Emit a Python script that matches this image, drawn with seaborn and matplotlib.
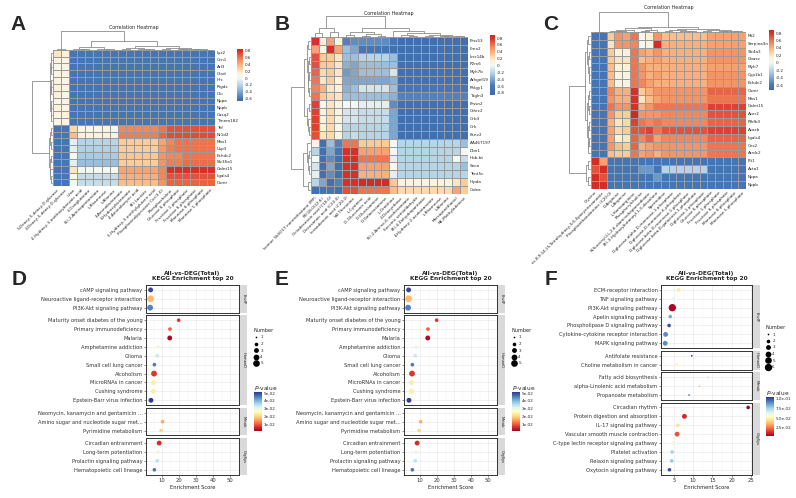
import numpy as np
import pandas as pd
import seaborn as sns
import matplotlib.pyplot as plt
from matplotlib.colors import LinearSegmentedColormap, Normalize
from matplotlib.cm import ScalarMappable
from matplotlib.lines import Line2D
from matplotlib.ticker import MultipleLocator

sns.set_style("white")
plt.rcParams['font.family'] = ['DejaVu Sans']

## DATA

# --- panel A: gene x metabolite correlation
A_rows = ['Lyz2', 'Ccn1', 'Arl3', 'Gtsd', 'Hrc', 'Ptgds', 'Clu', 'Nppa', 'Nppb', 'Casq2', 'Tmem182',
          'Tef', 'Nr1d2', 'Mns1', 'Usp3', 'Echdc2', 'Slc36a1', 'Galnt15', 'Lgals4', 'Osmr']
A_cols = ['5-Deoxy-5-deoxy-D-glucose', '2-Deoxy-5-deoxy-D-glucose', 'Urea',
          '4-Hydroxy-3-methoxybenzoic acid', '2-Oxoglutarate', '(S)-2-Aminopentanoate',
          'L-Rhamnose', 'L-Alanine', '3-Aminobutanoate', '3-Hydroxybutanoate',
          '4-Aminobutyric acid', '(R)-Lactate', '3-Hydroxy-3-methylglutaric acid',
          'Phosphoenolpyruvate Cer(3:0)', 'Phosphocholine', 'Glucose 6-phosphate',
          'Fructose 1-phosphate', 'Fructose 6-phosphate', 'Mannose 6-phosphate', 'Mannose 1-phosphate']
A_vals = [
    [.20, .15, -.60, -.60, -.60, -.60, -.60, -.60, -.60, -.60, -.60, -.60, -.60, -.60, -.60, -.60, -.60, -.60, -.60, -.60],
    [.10, .08, -.60, -.60, -.60, -.60, -.60, -.60, -.60, -.60, -.60, -.60, -.60, -.60, -.60, -.60, -.60, -.60, -.60, -.60],
    [.05, .06, -.60, -.60, -.60, -.60, -.60, -.60, -.60, -.60, -.60, -.60, -.60, -.60, -.60, -.60, -.60, -.60, -.60, -.60],
    [.08, .10, -.60, -.60, -.60, -.60, -.60, -.60, -.60, -.60, -.60, -.60, -.60, -.60, -.60, -.60, -.60, -.60, -.60, -.60],
    [.10, .05, -.60, -.60, -.60, -.60, -.60, -.60, -.60, -.60, -.60, -.60, -.60, -.60, -.60, -.60, -.60, -.60, -.60, -.60],
    [.15, .10, -.60, -.60, -.60, -.60, -.60, -.60, -.60, -.60, -.60, -.60, -.60, -.60, -.60, -.60, -.60, -.60, -.60, -.60],
    [.12, .08, -.60, -.60, -.60, -.60, -.60, -.60, -.60, -.60, -.60, -.60, -.60, -.60, -.60, -.60, -.60, -.60, -.60, -.60],
    [.05, .10, -.60, -.60, -.60, -.60, -.60, -.60, -.60, -.60, -.60, -.60, -.60, -.60, -.60, -.60, -.60, -.60, -.60, -.60],
    [.15, .08, -.60, -.60, -.60, -.60, -.60, -.60, -.60, -.60, -.60, -.60, -.60, -.60, -.60, -.60, -.60, -.60, -.60, -.60],
    [.10, .12, -.60, -.60, -.60, -.60, -.60, -.60, -.60, -.60, -.60, -.60, -.60, -.60, -.60, -.60, -.60, -.60, -.60, -.60],
    [.05, .08, -.60, -.60, -.60, -.60, -.60, -.60, -.60, -.60, -.60, -.60, -.60, -.60, -.60, -.60, -.60, -.60, -.60, -.60],
    [-.60, -.60, .25, .08, .05, .05, .08, .05, .55, .55, .55, .55, .55, .60, .70, .70, .70, .70, .70, .70],
    [-.60, -.60, .35, .12, .10, .10, .12, .10, .58, .58, .58, .58, .58, .65, .72, .72, .72, .72, .72, .72],
    [-.60, -.60, -.05, -.20, -.20, -.20, -.20, -.20, .30, .30, .30, .30, .30, .45, .55, .60, .60, .60, .60, .60],
    [-.60, -.60, -.05, -.22, -.22, -.22, -.22, -.22, .30, .30, .30, .30, .30, .48, .58, .60, .60, .60, .60, .60],
    [-.60, -.60, .00, -.25, -.25, -.25, -.25, -.25, .32, .32, .32, .32, .32, .50, .55, .55, .60, .60, .60, .60],
    [-.60, -.60, -.05, -.30, -.30, -.30, -.30, -.30, .30, .30, .30, .30, .30, .50, .58, .58, .62, .62, .62, .62],
    [-.60, -.60, .20, .00, .00, .00, .00, .00, .45, .45, .45, .45, .45, .55, .80, .80, .80, .80, .80, .80],
    [-.60, -.60, .05, -.15, -.15, -.15, -.15, -.15, .40, .40, .40, .40, .40, .55, .70, .70, .70, .70, .70, .70],
    [-.60, -.60, .00, -.15, -.15, -.15, -.15, -.15, .35, .35, .35, .35, .35, .50, .65, .65, .65, .65, .65, .65],
]
A_row_tree = [1.0, [0.08, [0.05, [0.03, 0, 1], [0.04, 2, 3]], [0.06, [0.04, 4, [0.02, 5, 6]], [0.05, [0.03, 7, 8], [0.02, 9, 10]]]],
              [0.12, [0.06, [0.03, 11, 12], [0.04, 13, 14]], [0.08, [0.05, 15, 16], [0.06, 17, [0.03, 18, 19]]]]]
A_col_tree = [1.0, [0.02, 0, 1],
              [0.47, [0.14, [0.06, 2, [0.03, 3, 4]], [0.05, 5, [0.02, 6, 7]]],
               [0.2, [0.08, [0.04, 8, 9], [0.03, 10, [0.02, 11, 12]]],
                [0.1, [0.05, 13, 14], [0.06, [0.03, 15, 16], [0.02, 17, [0.01, 18, 19]]]]]]]
A_ticks = [0.8, 0.6, 0.4, 0.2, 0, -0.2, -0.4, -0.6]
A_tlabels = ['0.8', '0.6', '0.4', '0.2', '0', '-0.2', '-0.4', '-0.6']

# --- panel B
B_rows = ['Prss53', 'Fmo2', 'Lrrc14b', 'P2rx6', 'Myh7b', 'Arhgef19', 'Phlgy1', 'Tagln3', 'Prssn2', 'Cthrc2',
          'Grb3', 'Grk', 'Kcnv2', 'AA467197', 'Dbn1', 'Hbb-bt', 'Snca', 'Tent5c', 'Hlpda', 'Cidea']
B_cols = ['Isomer 5b(6)17-norandrostane (MF)', 'PE(18:0/22:6)', 'Octadecanoic acid (C18:0)',
          'Docosanoic acid (C22:0)', 'Icosadienoic acid (C20:2)', 'Val-Threonine', 'L-Cysteine',
          'D-Glucuronic acid', 'D-Glucosamine', 'D-Galactosamine', 'L-Ornithine', '2-Deoxyribose',
          '(S)-2-Amino-6-oxohexanoate', 'Succinic semialdehyde', '(R)-4-Dehydropantoate',
          '4-Hydroxy-2-oxobutanoate', 'L-Rhamnose', 'L-Alanine', 'Mercaptoethanol', 'N6-Methyladenine']
B_vals = [
    [.80, .15, .45, .15, -.55, -.50, -.50, -.50, -.50, -.50, -.60, -.75, -.75, -.75, -.75, -.75, -.75, -.75, -.75, -.75],
    [.45, .05, .80, .45, -.30, -.40, -.60, -.60, -.60, -.60, -.70, -.75, -.75, -.75, -.75, -.75, -.75, -.75, -.75, -.75],
    [.70, .30, .30, .20, -.30, -.30, -.20, -.20, -.20, -.20, -.30, -.75, -.75, -.75, -.75, -.75, -.75, -.75, -.75, -.75],
    [.70, .30, .30, .20, -.35, -.40, -.30, -.30, -.30, -.30, -.30, -.75, -.75, -.75, -.75, -.75, -.75, -.75, -.75, -.75],
    [.65, .25, .30, .20, -.45, -.40, -.30, -.30, -.30, -.30, -.10, -.70, -.70, -.70, -.70, -.70, -.70, -.70, -.70, -.70],
    [.60, .20, .30, .15, -.40, -.40, -.40, -.40, -.40, -.40, -.35, -.70, -.70, -.70, -.70, -.70, -.70, -.70, -.70, -.80],
    [.55, .40, .20, .15, -.35, -.30, -.10, -.10, -.10, -.10, -.30, -.60, -.60, -.60, -.60, -.60, -.60, -.60, -.60, -.60],
    [.60, .30, .25, .20, -.30, -.30, -.30, -.30, -.30, -.30, -.35, -.55, -.55, -.55, -.55, -.55, -.55, -.55, -.55, -.55],
    [.75, .00, .20, .10, .00, .00, -.05, -.05, -.05, -.05, -.50, -.75, -.75, -.75, -.75, -.75, -.75, -.75, -.75, -.75],
    [.75, .10, .25, .10, -.10, -.10, -.15, -.15, -.15, -.15, -.40, -.75, -.75, -.75, -.75, -.75, -.75, -.75, -.75, -.75],
    [.75, .10, .25, .10, -.10, -.10, -.15, -.15, -.15, -.15, -.40, -.75, -.75, -.75, -.75, -.75, -.75, -.75, -.75, -.75],
    [.75, .15, .25, .05, -.20, -.20, -.20, -.20, -.20, -.20, -.40, -.75, -.75, -.75, -.75, -.75, -.75, -.75, -.75, -.75],
    [.70, .20, .25, .10, -.20, -.15, -.20, -.20, -.20, -.20, -.40, -.75, -.75, -.75, -.75, -.75, -.75, -.75, -.75, -.75],
    [.05, -.70, -.30, -.55, .60, .60, .30, .30, .30, .30, .00, -.20, -.20, -.20, -.20, -.20, -.20, -.20, -.20, -.30],
    [-.20, -.70, -.40, -.60, .80, .80, .45, .45, .45, .45, .00, -.20, -.20, -.20, -.20, -.20, -.20, -.20, -.20, .00],
    [.00, -.70, -.50, -.75, .80, .80, .60, .60, .60, .60, -.05, -.20, -.20, -.20, -.20, -.20, -.20, -.20, .00, -.15],
    [-.10, -.70, -.40, -.70, .80, .80, .45, .45, .45, .45, .00, -.20, -.20, -.20, -.20, -.20, -.20, -.20, -.20, -.30],
    [-.05, -.70, -.50, -.70, .80, .80, .40, .40, .40, .40, -.05, -.20, -.20, -.20, -.20, -.20, -.20, -.20, -.20, -.20],
    [-.20, -.40, -.70, -.55, .80, .80, .85, .85, .85, .85, .30, .10, .10, .10, .10, .10, .10, .10, .20, .30],
    [-.70, -.65, -.60, -.70, .70, .70, .60, .60, .60, .60, .35, .25, .25, .25, .25, .25, .25, .25, .45, .30],
]
B_row_tree = [1.0, [0.3, [0.15, [0.08, 0, 1], [0.1, [0.05, 2, 3], [0.06, [0.03, 4, 5], [0.04, 6, 7]]]],
                    [0.12, [0.05, 8, 9], [0.06, 10, [0.03, 11, 12]]]],
              [0.35, [0.15, 13, [0.08, [0.04, 14, 15], [0.05, 16, 17]]], [0.1, 18, 19]]]
B_col_tree = [1.0, [0.45, [0.2, 0, 1], [0.25, 2, 3]],
              [0.42, [0.25, [0.1, 4, 5], [0.12, [0.05, 6, 7], [0.04, 8, 9]]],
               [0.3, 10, [0.2, [0.08, 11, [0.05, 12, 13]], [0.1, [0.06, 14, 15], [0.05, [0.03, 16, 17], [0.04, 18, 19]]]]]]]
B_ticks = [0.8, 0.6, 0.4, 0.2, 0, -0.2, -0.4, -0.6, -0.8]
B_tlabels = ['0.8', '0.6', '0.4', '0.2', '0', '-0.2', '-0.4', '-0.6', '-0.8']

# --- panel C
C_rows = ['Mt2', 'Serpina3n', 'Slc4a3', 'Gbasv', 'Myh7', 'Cyp1b1', 'Echdc2', 'Osmr', 'Mns1', 'Galnt15',
          'Acer2', 'Pfkfb3', 'Acacb', 'Lgals4', 'Ces2', 'Arrdc2', 'Pit1', 'Acta1', 'Nppa', 'Nppb']
C_cols = ['Glycine', 'cis-8,9,14,15-Tetrahydroxy-5,6-Epoxyeicosanoate', 'Phosphoethanolamine (C20:0)',
          'D-Arginine', 'L-Arginine', 'L-Homoarginine', 'Phosphorylcholine',
          'N-Succinyl-LL-2,6-diaminoheptanedioate', '(R)-3-Hydroxybutanoyl-1,3-dioxolane', 'Spermidine',
          'D-glucose-alpha-D-mannose-1-phosphate', 'D-glucose-D-mannose-6-phosphate',
          'D-glucose-beta-D-mannose-1-phosphate', 'D-glucose-beta-D-galactose-1-phosphate',
          'D-glucose-1-phosphate', 'Glucose 6-phosphate', 'Fructose 1-phosphate', 'Fructose 6-phosphate',
          'Mannose 6-phosphate', 'Mannose 1-phosphate']
C_vals = [
    [-.60, -.60, .30, .50, .45, .60, .05, .15, .50, .35, .35, .35, .35, .35, .35, .45, .45, .45, .45, .45],
    [-.60, -.60, .20, .50, .50, .55, .00, .10, .85, .40, .40, .40, .40, .40, .40, .45, .45, .45, .45, .45],
    [-.60, -.60, .30, .15, .15, .60, .45, .40, .50, .40, .40, .40, .40, .40, .40, .50, .50, .50, .50, .50],
    [-.60, -.60, .30, .20, .20, .60, .35, .40, .45, .40, .40, .40, .40, .40, .40, .50, .50, .50, .50, .50],
    [-.60, -.60, .35, .15, .15, .60, .50, .40, .40, .40, .40, .40, .40, .40, .40, .45, .45, .45, .45, .45],
    [-.60, -.60, .35, .10, .10, .60, .50, .40, .45, .40, .40, .40, .40, .40, .40, .50, .50, .50, .50, .50],
    [-.60, -.60, .35, .10, .10, .60, .55, .45, .40, .40, .40, .40, .40, .40, .40, .50, .50, .50, .50, .50],
    [-.60, -.60, .55, .40, .40, .80, .30, .40, .50, .50, .50, .50, .50, .50, .50, .65, .65, .65, .65, .65],
    [-.60, -.60, .50, .40, .40, .80, .20, .35, .45, .50, .50, .50, .50, .50, .50, .60, .60, .60, .60, .60],
    [-.60, -.60, .60, .50, .50, .80, .40, .50, .60, .60, .60, .60, .60, .60, .60, .75, .75, .75, .75, .75],
    [-.60, -.60, .50, .30, .30, .90, .50, .50, .50, .55, .55, .55, .55, .55, .55, .70, .70, .70, .70, .70],
    [-.60, -.60, .40, .20, .25, .75, .60, .55, .60, .55, .55, .55, .55, .55, .55, .65, .65, .65, .65, .65],
    [-.60, -.60, .45, .25, .30, .70, .70, .75, .60, .70, .70, .70, .70, .70, .70, .75, .75, .75, .75, .75],
    [-.60, -.60, .45, .15, .20, .65, .55, .65, .45, .55, .55, .55, .55, .55, .55, .65, .65, .65, .65, .65],
    [-.60, -.60, .50, .35, .30, .65, .40, .45, .50, .50, .50, .50, .50, .50, .50, .60, .60, .60, .60, .60],
    [-.60, -.60, .35, .30, .30, .60, .45, .50, .40, .50, .50, .50, .50, .50, .50, .60, .60, .60, .60, .60],
    [.85, .45, -.60, -.60, -.60, -.60, -.60, -.60, -.60, -.60, -.60, -.60, -.60, -.60, -.60, -.60, -.60, -.60, -.60, -.60],
    [.70, .85, -.60, -.60, -.60, -.60, -.45, -.45, -.60, -.20, -.20, -.20, -.20, -.20, -.20, -.60, -.60, -.60, -.60, -.60],
    [.85, .70, -.60, -.60, -.60, -.60, -.60, -.60, -.45, -.60, -.60, -.60, -.60, -.60, -.60, -.60, -.60, -.60, -.60, -.60],
    [.85, .85, -.60, -.60, -.60, -.60, -.60, -.60, -.60, -.60, -.60, -.60, -.60, -.60, -.60, -.60, -.60, -.60, -.60, -.60],
]
C_row_tree = [1.0, [0.2, [0.1, [0.05, 0, 1], [0.06, [0.03, 2, 3], [0.04, 4, [0.02, 5, 6]]]],
                    [0.12, [0.06, [0.03, 7, 8], [0.04, 9, 10]], [0.08, [0.04, 11, 12], [0.05, [0.03, 13, 14], 15]]]],
              [0.15, [0.06, 16, 17], [0.05, 18, 19]]]
C_col_tree = [1.0, [0.02, 0, 1],
              [0.26, [0.18, [0.1, [0.05, 2, [0.03, 3, 4]], 5], [0.12, [0.06, 6, 7], 8]],
               [0.16, [0.08, [0.04, 9, 10], [0.05, 11, [0.03, 12, 13]]],
                [0.1, [0.05, 14, 15], [0.06, [0.03, 16, 17], [0.04, 18, 19]]]]]]
C_ticks = [0.8, 0.6, 0.4, 0.2, 0, -0.2, -0.4, -0.6]
C_tlabels = ['0.8', '0.6', '0.4', '0.2', '0', '-0.2', '-0.4', '-0.6']

# heatmap colour stops (correlation value -> colour)
heat_stop_vals = [-0.6, -0.25, 0.0, 0.15, 0.3, 0.55, 0.8]
heat_stop_cols = ['#4575B4', '#A9CCE3', '#F3F8F3', '#FEF1D6', '#FDCC97', '#F3875A', '#D73027']

# --- panels D / E (same enrichment result)
D_terms = ['cAMP signaling pathway', 'Neuroactive ligand-receptor interaction', 'PI3K-Akt signaling pathway',
           'Maturity onset diabetes of the young', 'Primary immunodeficiency', 'Malaria',
           'Amphetamine addiction', 'Glioma', 'Small cell lung cancer', 'Alcoholism',
           'MicroRNAs in cancer', 'Cushing syndrome', 'Epstein-Barr virus infection',
           'Neomycin, kanamycin and gentamicin ...', 'Amino sugar and nucleotide sugar met...',
           'Pyrimidine metabolism', 'Circadian entrainment', 'Long-term potentiation',
           'Prolactin signaling pathway', 'Hematopoietic cell lineage']
D_group = ['EnvIP', 'EnvIP', 'EnvIP',
           'HumanD', 'HumanD', 'HumanD', 'HumanD', 'HumanD', 'HumanD', 'HumanD', 'HumanD', 'HumanD', 'HumanD',
           'Metab', 'Metab', 'Metab',
           'OrgSys', 'OrgSys', 'OrgSys', 'OrgSys']
D_score = [3.3, 3.3, 3.0, 19.7, 14.6, 14.5, 7.6, 7.2, 5.5, 5.3, 5.0, 5.0, 3.5, 53.0, 10.3, 9.4, 8.3, 7.6, 7.2, 5.5]
D_pval = [0.050, 0.018, 0.045, 0.008, 0.011, 0.003, 0.030, 0.034, 0.046, 0.008,
          0.024, 0.024, 0.051, 0.028, 0.017, 0.021, 0.007, 0.030, 0.035, 0.046]
D_num = [3, 5, 4, 2, 2, 3, 2, 2, 2, 4, 3, 3, 3, 1, 2, 2, 3, 2, 2, 2]
D_strips = ['EnvIP', 'HumanD', 'Metab', 'OrgSys']
D_xticks = [10, 20, 30, 40, 50]
D_prange = (0.0023, 0.0513)
D_cticks = [0.05, 0.04, 0.03, 0.02, 0.01]
D_clabels = ['5e-02', '4e-02', '3e-02', '2e-02', '1e-02']
D_sizes = [1, 2, 3, 4, 5]

# --- panel F
F_terms = ['ECM-receptor interaction', 'TNF signaling pathway', 'PI3K-Akt signaling pathway',
           'Apelin signaling pathway', 'Phospholipase D signaling pathway',
           'Cytokine-cytokine receptor interaction', 'MAPK signaling pathway',
           'Antifolate resistance', 'Choline metabolism in cancer',
           'Fatty acid biosynthesis', 'alpha-Linolenic acid metabolism', 'Propanoate metabolism',
           'Circadian rhythm', 'Protein digestion and absorption', 'IL-17 signaling pathway',
           'Vascular smooth muscle contraction', 'C-type lectin receptor signaling pathway',
           'Platelet activation', 'Relaxin signaling pathway', 'Oxytocin signaling pathway']
F_group = ['EnvIP', 'EnvIP', 'EnvIP', 'EnvIP', 'EnvIP', 'EnvIP', 'EnvIP',
           'HumanD', 'HumanD',
           'Metab', 'Metab', 'Metab',
           'OrgSys', 'OrgSys', 'OrgSys', 'OrgSys', 'OrgSys', 'OrgSys', 'OrgSys', 'OrgSys']
F_score = [6.2, 4.8, 4.55, 4.0, 3.7, 2.8, 2.7, 9.6, 5.6, 13.9, 11.6, 8.9, 24.3, 7.7, 6.0, 5.8, 4.8, 4.5, 4.4, 3.8]
F_pval = [0.048, 0.062, 0.005, 0.085, 0.100, 0.090, 0.090, 0.105, 0.052, 0.070,
          0.075, 0.095, 0.004, 0.012, 0.045, 0.020, 0.060, 0.075, 0.078, 0.100]
F_num = [2, 2, 6, 2, 2, 3, 3, 1, 2, 1, 1, 1, 2, 3, 2, 3, 2, 2, 2, 2]
F_strips = ['EnvIP', 'HumanD', 'Metab', 'OrgSys']
F_xticks = [5, 10, 15, 20, 25]
F_prange = (0.0035, 0.105)
F_cticks = [0.1, 0.075, 0.05, 0.025]
F_clabels = ['1.0e-01', '7.5e-02', '5.0e-02', '2.5e-02']
F_sizes = [1, 2, 3, 4, 5, 6]

## FIGURE

W, H = 796, 498
fig = plt.figure(figsize=(W / 100, H / 100), dpi=100)

def box(x0, y0, x1, y1):
    # pixel box measured from top-left -> figure fraction
    return [x0 / W, 1 - y1 / H, (x1 - x0) / W, (y1 - y0) / H]


def heat_cmap(vmin, vmax):
    stops = [(0.0, '#3E6CAE')]
    for v, c in zip(heat_stop_vals, heat_stop_cols):
        stops.append(((v - vmin) / (vmax - vmin), c))
    stops.append((1.0, '#CF2A26'))
    return LinearSegmentedColormap.from_list('corr', stops)


def draw_tree(ax, tree, side, n):
    def walk(node):
        if isinstance(node, int):
            return node + 0.5, 0.0
        h = node[0]
        pos, ht = walk(node[1])
        for child in node[2:]:
            p2, h2 = walk(child)
            xs, ys = [pos, pos, p2, p2], [ht, h, h, h2]
            if side == 'top':
                ax.plot(xs, ys, color='#8C8C8C', lw=0.6, clip_on=False)
            else:
                ax.plot(ys, xs, color='#8C8C8C', lw=0.6, clip_on=False)
            pos, ht = (pos + p2) / 2, h
        return pos, ht
    walk(tree)
    if side == 'top':
        ax.set_xlim(0, n)
        ax.set_ylim(0, 1)
    else:
        ax.set_xlim(1, 0)
        ax.set_ylim(n, 0)
    ax.axis('off')


def corr_panel(vals, rows, cols, rtree, ctree, hm, top, left, cb, vlim, cticks, clabels, title_xy):
    df = pd.DataFrame(vals, index=rows, columns=cols)
    ax = fig.add_axes(box(*hm))
    cax = fig.add_axes(box(*cb))
    sns.heatmap(df, ax=ax, cmap=heat_cmap(*vlim), vmin=vlim[0], vmax=vlim[1], linewidths=0.4,
                linecolor='#9A9A9A', cbar_ax=cax, xticklabels=True, yticklabels=True)
    ax.yaxis.tick_right()
    ax.tick_params(axis='both', length=0, pad=1.5, labelsize=3, labelcolor='#222222')
    for t in ax.get_yticklabels():
        t.set_rotation(0)
        t.set_va('center')
    for t in ax.get_xticklabels():
        t.set_rotation(45)
        t.set_ha('right')
        t.set_rotation_mode('anchor')
    cbar = ax.collections[0].colorbar
    cbar.set_ticks(cticks, labels=clabels)
    cbar.outline.set_visible(False)
    cax.tick_params(length=0, pad=1.2, labelsize=3)
    draw_tree(fig.add_axes(box(*top)), ctree, 'top', len(cols))
    draw_tree(fig.add_axes(box(*left)), rtree, 'left', len(rows))
    fig.text(title_xy[0] / W, 1 - title_xy[1] / H, 'Correlation Heatmap', ha='center',
             va='center', fontsize=3.4)


corr_panel(A_vals, A_rows, A_cols, A_row_tree, A_col_tree,
           (53, 49.7, 214.7, 186.3), (53, 31, 214.7, 49.7), (32, 49.7, 51.5, 186.3),
           (237, 48.7, 243, 100.7), (-0.66, 0.86), A_ticks, A_tlabels, (134, 27.5))
corr_panel(B_vals, B_rows, B_cols, B_row_tree, B_col_tree,
           (310.7, 37, 468, 193.7), (310.7, 16, 468, 37), (290.7, 37, 309.5, 193.7),
           (489.7, 35.3, 495.3, 94.7), (-0.85, 0.88), B_ticks, B_tlabels, (389, 13))
corr_panel(C_vals, C_rows, C_cols, C_row_tree, C_col_tree,
           (591, 32, 746, 188.7), (591, 12, 746, 32), (569.3, 32, 589.5, 188.7),
           (769.3, 29.7, 774.3, 89.7), (-0.72, 0.89), C_ticks, C_tlabels, (668.5, 8))


def kegg_panel(x0, x1, terms, groups, strips, scores, pvals, nums, xlim, xticks, minor,
               prange, smax, legend_vals, leg_x, leg_y, cb_y, cticks, clabels):
    data = pd.DataFrame({'term': terms, 'group': groups, 'score': scores, 'p': pvals, 'n': nums})
    nmax = legend_vals[-1]
    y = 285
    for k, g in enumerate(strips):
        sub = data[data['group'] == g]
        m = len(sub)
        h = (m + 0.1) * 8.9
        ax = fig.add_axes(box(x0, y, x1, y + h))
        ax.set_axisbelow(True)
        sns.scatterplot(data=sub, x='score', y='term', hue='p', size='n', palette='RdYlBu',
                        hue_norm=prange, sizes=(1.5, smax), size_norm=(1, nmax), legend=False,
                        linewidth=0, ax=ax, zorder=3)
        ax.set_xlim(xlim)
        ax.set_ylim(m - 0.45, -0.55)
        ax.set_xticks(xticks)
        ax.xaxis.set_minor_locator(MultipleLocator(minor))
        ax.grid(True, which='major', color='#EBEBEB', lw=0.5)
        ax.grid(True, which='minor', axis='x', color='#F3F3F3', lw=0.3)
        for sp in ax.spines.values():
            sp.set_color('#333333')
            sp.set_linewidth(0.7)
        ax.tick_params(axis='y', left=True, length=1.5, width=0.4, color='#333333', pad=1,
                       labelsize=3.7, labelcolor='#333333')
        ax.set_ylabel('')
        if k == len(strips) - 1:
            ax.tick_params(axis='x', bottom=True, length=1.5, width=0.4, color='#333333', pad=1,
                           labelsize=3.8, labelcolor='#333333')
            ax.tick_params(axis='x', which='minor', bottom=False)
            ax.set_xlabel('Enrichment Score', fontsize=3.7, labelpad=1, color='#222222')
        else:
            ax.tick_params(axis='x', which='both', bottom=False, labelbottom=False)
            ax.set_xlabel('')
        sax = fig.add_axes(box(x1 + 1, y, x1 + 8, y + h))
        sax.set_facecolor('#D9D9D9')
        sax.set_xticks([])
        sax.set_yticks([])
        for sp in sax.spines.values():
            sp.set_visible(False)
        sax.text(0.5, 0.5, g, rotation=270, ha='center', va='center', fontsize=2.6,
                 color='#1A1A1A', transform=sax.transAxes)
        y += h + 2.7

    fig.text((x0 + x1) / 2 / W, 1 - 276 / H, 'All-vs-DEG(Total)\nKEGG Enrichment top 20',
             ha='center', va='center', fontsize=4.2, fontweight='bold', linespacing=1.05)

    # size legend
    handles = [Line2D([], [], ls='', marker='o', color='black', mew=0,
                      markersize=np.sqrt(1.5 + (v - 1) / (nmax - 1) * (smax - 1.5)))
               for v in legend_vals]
    fig.legend(handles, [str(v) for v in legend_vals], title='Number', loc='upper left',
               bbox_to_anchor=(leg_x / W, 1 - leg_y / H), frameon=False, fontsize=3.0,
               title_fontsize=3.6, handlelength=1.0, handletextpad=0.5, labelspacing=0.6,
               borderpad=0, borderaxespad=0, alignment='left')

    # p-value colourbar
    cax = fig.add_axes(box(leg_x, cb_y, leg_x + 8, cb_y + 39))
    cb = fig.colorbar(ScalarMappable(norm=Normalize(*prange), cmap='RdYlBu'), cax=cax)
    cb.set_ticks(cticks, labels=clabels)
    cb.outline.set_visible(False)
    cax.tick_params(labelsize=3, length=1.5, color='white', width=0.4, pad=1, direction='in')
    fig.text(leg_x / W, 1 - (cb_y - 4.5) / H, r'$\it{P}$-value', fontsize=4.2, va='center')


kegg_panel(146, 239, D_terms, D_group, D_strips, D_score, D_pval, D_num, (0.6, 55), D_xticks, 5,
           D_prange, 23, D_sizes, 254, 328, 392, D_cticks, D_clabels)
kegg_panel(404, 497, D_terms, D_group, D_strips, D_score, D_pval, D_num, (0.6, 55), D_xticks, 5,
           D_prange, 23, D_sizes, 512, 328, 392, D_cticks, D_clabels)
kegg_panel(661, 752, F_terms, F_group, F_strips, F_score, F_pval, F_num, (1.6, 25.3), F_xticks, 2.5,
           F_prange, 28, F_sizes, 766, 325, 397, F_cticks, F_clabels)

# panel letters
for letter, lx, ly in [('A', 10, 30), ('B', 275, 30), ('C', 543, 30),
                       ('D', 12, 285), ('E', 275, 285), ('F', 545, 285)]:
    fig.text(lx / W, 1 - ly / H, letter, fontsize=15, fontweight='bold',
             family=['Liberation Sans', 'DejaVu Sans'], va='baseline')

fig.savefig('out.png', dpi=100)
